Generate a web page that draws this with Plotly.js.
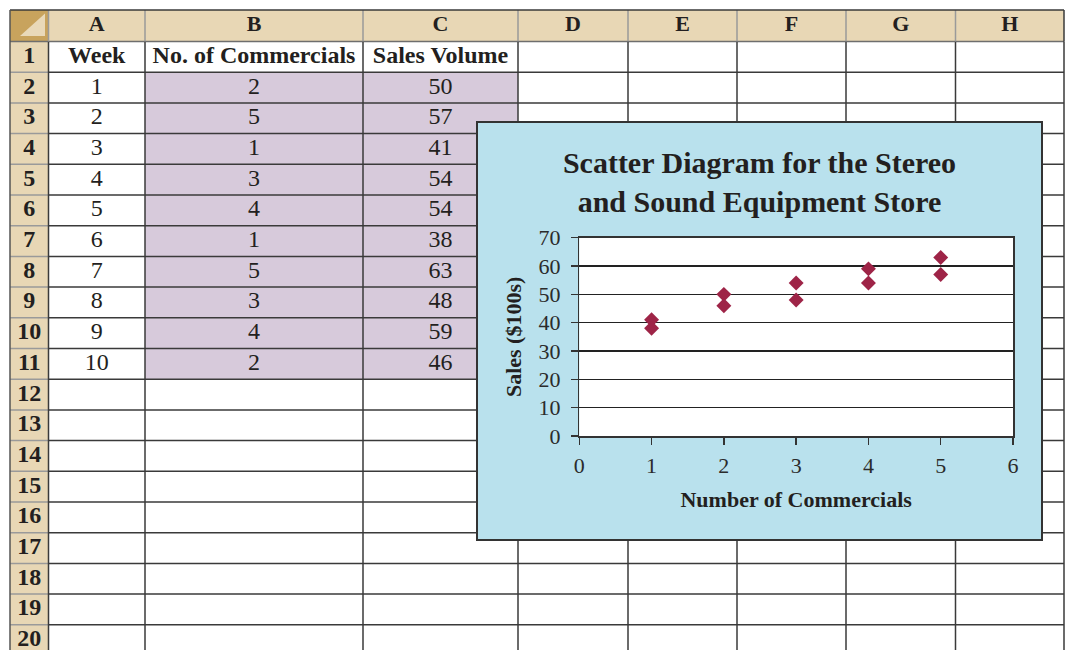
<!DOCTYPE html>
<html>
<head>
<meta charset="utf-8">
<script src="https://cdn.plot.ly/plotly-3.0.1.min.js"></script>
<style>
html,body{margin:0;padding:0;background:#ffffff;}
#chart{width:1067px;height:650px;}
</style>
</head>
<body>
<div id="chart"></div>
<script>
// ================= DATA =================
var columnLetters = ['A', 'B', 'C', 'D', 'E', 'F', 'G', 'H'];
var rowNumbers = [1, 2, 3, 4, 5, 6, 7, 8, 9, 10, 11, 12, 13, 14, 15, 16, 17, 18, 19, 20];
var headerLabels = ['Week', 'No. of Commercials', 'Sales Volume'];
var weeks = [1, 2, 3, 4, 5, 6, 7, 8, 9, 10];
var commercials = [2, 5, 1, 3, 4, 1, 5, 3, 4, 2];
var salesVolume = [50, 57, 41, 54, 54, 38, 63, 48, 59, 46];
var xTickValues = [0, 1, 2, 3, 4, 5, 6];
var yTickValues = [0, 10, 20, 30, 40, 50, 60, 70];
var chartTitle = 'Scatter Diagram for the Stereo<br>and Sound Equipment Store';
var xAxisTitle = 'Number of Commercials';
var yAxisTitle = 'Sales ($100s)';

// ================= LAYOUT GEOMETRY (pixels) =================
var W = 1067, H = 650;
var colEdges = [10, 48.5, 145, 363, 518, 628, 737, 846, 955.5, 1064];
var headTop = 10, headBottom = 41.5, rowH = 30.7, sheetBottom = 660;
function rowTop(r) { return headBottom + (r - 1) * rowH; }
function rowMid(r) { return rowTop(r) + rowH / 2; }
function colMid(c) { return (colEdges[c] + colEdges[c + 1]) / 2; }

var boxL = 477, boxR = 1042, boxT = 122, boxB = 540;       // chart area
var plotL = 579.3, plotR = 1013, plotT = 237.7, plotB = 436; // plot area

var serif = 'Liberation Serif, Times New Roman, serif';
var ink = '#231f20';
var dark = '#3a3a3a';
var grey = '#9a9a9a';
var tan = '#e8d7b5';
var purple = '#d7cadb';
var sky = '#b9e1ed';
var marker = '#9e2447';

// ================= SHAPES (spreadsheet + chart box) =================
var shapes = [];
function rect(x0, y0, x1, y1, fill, lineColor, lineW) {
  shapes.push({type: 'rect', xref: 'x', yref: 'y', layer: 'below',
    x0: x0, x1: x1, y0: y0, y1: y1, fillcolor: fill,
    line: {color: lineColor || 'rgba(0,0,0,0)', width: lineW || 0}});
}
function line(x0, y0, x1, y1, color, w) {
  shapes.push({type: 'line', xref: 'x', yref: 'y', layer: 'below',
    x0: x0, x1: x1, y0: y0, y1: y1, line: {color: color, width: w}});
}
// fills
rect(colEdges[0], headTop, colEdges[9], headBottom, tan);
rect(colEdges[0], headTop, colEdges[1], sheetBottom, tan);
rect(colEdges[2], rowTop(2), colEdges[4], rowTop(12), purple);
// corner cell
rect(colEdges[0], headTop, colEdges[1], headBottom, '#c8a35d');
shapes.push({type: 'path', xref: 'x', yref: 'y', layer: 'below',
  path: 'M 20 36 L 45 36 L 45 13.5 Z', fillcolor: '#e9d9b9', line: {width: 0}});
// horizontal lines
line(colEdges[0], headBottom, colEdges[9], headBottom, '#6e6e6e', 1.5);
for (var r = 1; r <= rowNumbers.length; r++) {
  var yb = rowTop(r) + rowH;
  line(colEdges[0], yb, colEdges[1], yb, grey, 1.5);
  line(colEdges[1], yb, colEdges[9], yb, dark, 1.5);
}
// vertical lines
for (var c = 1; c < colEdges.length; c++) {
  line(colEdges[c], headBottom, colEdges[c], sheetBottom, dark, 1.5);
  line(colEdges[c], headTop, colEdges[c], headBottom, c === colEdges.length - 1 ? dark : grey, 1.5);
}
// outer border
line(colEdges[0], headTop, colEdges[9], headTop, dark, 1.5);
line(colEdges[0], headTop, colEdges[0], sheetBottom, '#555555', 1.5);
// chart box and white plot area (drawn above the sheet, below the chart subplot)
rect(boxL, boxT, boxR, boxB, sky, '#333333', 2);
rect(plotL, plotT, plotR, plotB, '#ffffff');

// ================= TEXT TRACES (spreadsheet cells) =================
function textTrace(xs, ys, texts, size, bold) {
  return {type: 'scatter', mode: 'text', xaxis: 'x', yaxis: 'y',
    x: xs, y: ys, text: texts, textposition: 'middle center',
    textfont: {family: serif, size: size, color: ink, weight: bold ? 'bold' : 'normal'},
    hoverinfo: 'skip', showlegend: false, cliponaxis: false};
}
var traces = [];
traces.push(textTrace(columnLetters.map(function (l, i) { return colMid(i + 1); }),
  columnLetters.map(function () { return (headTop + headBottom) / 2; }), columnLetters, 22, true));
traces.push(textTrace(rowNumbers.map(function () { return colMid(0); }),
  rowNumbers.map(function (n) { return rowMid(n); }), rowNumbers.map(String), 24, true));
traces.push(textTrace(headerLabels.map(function (l, i) { return colMid(i + 1); }),
  headerLabels.map(function () { return rowMid(1); }), headerLabels, 24, true));
traces.push(textTrace(weeks.map(function () { return colMid(1); }),
  weeks.map(function (w, i) { return rowMid(i + 2); }), weeks.map(String), 24, false));
traces.push(textTrace(commercials.map(function () { return colMid(2); }),
  commercials.map(function (v, i) { return rowMid(i + 2); }), commercials.map(String), 24, false));
traces.push(textTrace(salesVolume.map(function () { return colMid(3); }),
  salesVolume.map(function (v, i) { return rowMid(i + 2); }), salesVolume.map(String), 24, false));

// ================= SCATTER CHART =================
traces.push({type: 'scatter', mode: 'markers', xaxis: 'x2', yaxis: 'y2',
  x: commercials, y: salesVolume, name: 'Sales',
  marker: {symbol: 'diamond', size: 11.5, color: marker, line: {width: 0}},
  showlegend: false, cliponaxis: false,
  hovertemplate: 'Commercials: %{x}<br>Sales: %{y}<extra></extra>'});

var layout = {
  width: W, height: H,
  margin: {l: 0, r: 0, t: 0, b: 0, pad: 0, autoexpand: false},
  paper_bgcolor: '#ffffff',
  plot_bgcolor: 'rgba(0,0,0,0)',
  showlegend: false,
  title: {text: chartTitle, xref: 'paper', yref: 'paper', automargin: false,
    x: ((boxL + boxR) / 2) / W, xanchor: 'center',
    y: 1 - 173 / H, yanchor: 'middle',
    font: {family: serif, size: 30, color: ink, weight: 'bold'}},
  xaxis: {domain: [0, 1], range: [0, W], visible: false, fixedrange: true},
  yaxis: {domain: [0, 1], range: [H, 0], visible: false, fixedrange: true},
  xaxis2: {domain: [plotL / W, plotR / W], anchor: 'y2', range: [0, 6],
    tickvals: xTickValues, ticks: 'outside', ticklen: 7, tickwidth: 1.5, tickcolor: '#333333',
    showline: true, mirror: true, linecolor: '#333333', linewidth: 1.5,
    showgrid: false, zeroline: false, fixedrange: true,
    tickfont: {family: serif, size: 22, color: '#2b2b2b'},
    ticklabelstandoff: 2,
    title: {text: xAxisTitle, standoff: 14, font: {family: serif, size: 22, color: ink, weight: 'bold'}},
    automargin: false},
  yaxis2: {domain: [1 - plotB / H, 1 - plotT / H], anchor: 'x2', range: [0, 70],
    tickvals: yTickValues, ticks: 'outside', ticklen: 7, tickwidth: 1.5, tickcolor: '#333333',
    showline: true, mirror: true, linecolor: '#333333', linewidth: 1.5,
    showgrid: true, gridcolor: '#222222', gridwidth: 1.6, zeroline: false, fixedrange: true,
    tickfont: {family: serif, size: 22, color: '#2b2b2b'},
    ticklabelstandoff: 6,
    title: {text: yAxisTitle, standoff: 10, font: {family: serif, size: 22, color: ink, weight: 'bold'}},
    automargin: false},
  shapes: shapes
};

Plotly.newPlot('chart', traces, layout, {displayModeBar: false, staticPlot: true});
</script>
</body>
</html>
